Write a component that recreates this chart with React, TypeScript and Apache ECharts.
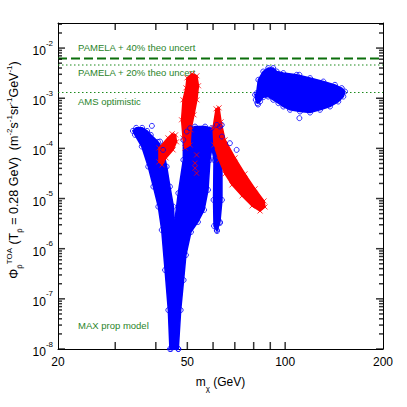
import React, { useEffect, useRef } from 'react';
import * as echarts from 'echarts';

// ---- axes ----
const MASS_MIN = 20;
const MASS_MAX = 200;
const FLUX_MIN = 1e-8;
const FLUX_MAX = Math.pow(10, -1.5);
const MASS_TICKS = [30, 40, 50, 60, 70, 80, 90, 100];
const MASS_LABELS = [20, 50, 100, 200];
const FLUX_DECADES = [-8, -7, -6, -5, -4, -3, -2];
const FLUX_MINOR_MANTISSA = [2, 3, 4, 5, 6, 7, 8, 9];

// ---- reference limits ----
const PAMELA_40 = 6.2e-3;
const PAMELA_20 = 4.6e-3;
const AMS_OPT = 1.3e-3;

// ---- blue circles (model points, outlines of dense regions) [mass GeV, flux] ----
const BLUE_LEFT_ARM: number[][] = [
  [34.0, 2.23e-4], [34.8, 2.57e-4], [36.3, 2.57e-4], [37.6, 2.23e-4], [38.6, 1.86e-4],
  [40.6, 1.35e-4], [42.1, 9.33e-5], [43.2, 4.33e-5], [44.2, 1.73e-5], [45.3, 6.89e-6],
  [45.7, 2.71e-6], [46.1, 5.95e-7], [46.5, 9.46e-8], [46.9, 1e-8], [44.2, 1e-8],
  [43.7, 5.97e-8], [42.7, 3.76e-7], [41.7, 2.36e-6], [40.7, 6.89e-6], [39.3, 1.73e-5],
  [37.9, 4.33e-5], [36.2, 1.09e-4], [34.5, 1.86e-4],
];
const BLUE_RIGHT_BODY: number[][] = [
  [44.5, 1e-8], [44.9, 9.46e-8], [45.3, 5.95e-7], [45.6, 2.06e-6], [45.8, 3.74e-6],
  [46.9, 1.28e-5], [48.6, 5.89e-5], [48.6, 1.48e-4], [49.8, 2.16e-4], [51.0, 2.53e-4],
  [52.8, 2.72e-4], [56.7, 2.72e-4], [59.4, 2.53e-4], [61.6, 2.94e-4], [63.0, 2.72e-4],
  [63.9, 1.72e-4], [63.9, 9.38e-6], [63.0, 3.41e-6], [61.7, 2.25e-6], [60.4, 2.84e-6],
  [60.2, 9.38e-6], [60.4, 5.89e-5], [59.5, 1.02e-4], [58.7, 5.89e-5], [57.9, 1.49e-5],
  [56.3, 5.92e-6], [53.9, 3.41e-6], [51.3, 2.15e-6], [49.5, 7.48e-7], [48.7, 2.37e-7],
  [47.7, 5.97e-8], [46.9, 1e-8],
];
const BLUE_HIGH_MASS: number[][] = [
  [81.7, 1.26e-3], [82.7, 2.33e-3], [85.6, 3.41e-3], [88.7, 3.99e-3], [91.9, 3.99e-3],
  [94.2, 3.41e-3], [98.7, 3.17e-3], [108.5, 2.93e-3], [119.3, 2.52e-3], [131.1, 2.15e-3],
  [142.3, 1.85e-3], [149.3, 1.59e-3], [152.8, 1.36e-3], [151.0, 1.08e-3], [145.7, 8.59e-4],
  [137.4, 6.83e-4], [128.0, 5.87e-4], [119.3, 5.18e-4], [111.1, 5.43e-4], [103.5, 5.87e-4],
  [98.7, 6.83e-4], [95.3, 7.98e-4], [91.9, 9.29e-4], [88.7, 1.08e-3], [85.6, 1.05e-3],
  [83.7, 8.59e-4], [82.1, 7.98e-4], [81.2, 9.29e-4], [80.8, 1.17e-3],
];
const BLUE_ISOLATED: number[][] = [
  [38.9, 2.81e-4], [41.2, 1.37e-4], [55.4, 2.45e-4], [63.8, 2.94e-4], [67.6, 1.27e-4],
  [70.9, 9.33e-5], [61.6, 2.36e-6], [63.0, 3.26e-6], [110.6, 2.93e-3], [110.6, 4.01e-4],
  [82.5, 7.5e-4],
];

// ---- red crosses (excluded points) [mass GeV, flux] ----
const RED_LOW: number[][] = [
  [40.9, 1.02e-4], [43.6, 1.62e-4], [44.9, 1.95e-4], [46.0, 1.86e-4], [46.3, 1.35e-4],
  [45.2, 9.33e-5], [43.0, 6.46e-5], [41.8, 4.69e-5], [40.9, 5.38e-5],
];
const RED_PEAK: number[][] = [
  [49.9, 2.55e-3], [51.7, 3.07e-3], [53.5, 2.80e-3], [54.1, 1.77e-3], [53.5, 9.29e-4],
  [52.4, 4.67e-4], [51.3, 2.34e-4], [51.0, 1.17e-4], [49.2, 1.02e-4], [48.5, 1.62e-4],
  [48.0, 3.71e-4], [48.5, 9.29e-4], [49.5, 1.61e-3],
];
const RED_TAIL: number[][] = [
  [61.3, 6.14e-4], [62.6, 6.43e-4], [63.5, 3.38e-4], [65.3, 1.48e-4], [70.1, 6.46e-5],
  [75.2, 3.10e-5], [80.8, 1.56e-5], [86.1, 8.95e-6], [86.7, 6.79e-6], [83.7, 5.65e-6],
  [79.1, 7.12e-6], [73.7, 1.13e-5], [68.6, 1.87e-5], [65.3, 3.10e-5], [62.6, 5.89e-5],
  [60.4, 1.17e-4], [60.0, 2.57e-4],
];
const RED_ISOLATED: number[][] = [
  [53.4, 7.41e-5], [52.8, 5.07e-5], [52.8, 4.03e-5], [53.4, 3.20e-5],
];

const FONT = 'Liberation Sans, Arial, Helvetica, sans-serif';
const BLUE = '#0000ff';
const RED = '#ff0000';
const GREEN_TXT = '#2a842a';
const CROSS = 'path://M0,0L10,10M10,0L0,10';

const lg = (v: number) => Math.log10(v);

function polygonSeries(pts: number[][], color: string) {
  return {
    type: 'custom',
    xAxisIndex: 0,
    yAxisIndex: 0,
    silent: true,
    z: 3,
    data: pts,
    renderItem: (params: any, api: any) => {
      if (params.dataIndex !== 0) return { type: 'group', children: [] };
      return {
        type: 'polygon',
        shape: { points: pts.map((p) => api.coord(p)) },
        style: { fill: color, stroke: color, lineWidth: 1.5 },
      };
    },
  };
}

function edgeMarks(pts: number[][], color: string, cross: boolean, z: number) {
  return {
    type: 'scatter',
    xAxisIndex: 0,
    yAxisIndex: 0,
    silent: true,
    z,
    data: pts,
    symbol: cross ? CROSS : 'circle',
    symbolSize: 5,
    itemStyle: { color: 'rgba(0,0,0,0)', borderColor: color, borderWidth: 1 },
  };
}

function limitLine(v: number, color: string, width: number, dash: number[]) {
  return {
    type: 'line',
    xAxisIndex: 0,
    yAxisIndex: 0,
    data: [[MASS_MIN, v], [MASS_MAX, v]],
    symbol: 'none',
    silent: true,
    z: 1,
    lineStyle: { color, width, type: dash },
  };
}

// tick marks: small solid rectangles sitting on the frame, pointing inward
function tickSeries(data: number[][], size: number[], offset: number[]) {
  return {
    type: 'scatter',
    xAxisIndex: 0,
    yAxisIndex: 0,
    clip: false,
    silent: true,
    z: 10,
    data,
    symbol: 'rect',
    symbolSize: size,
    symbolOffset: offset,
    itemStyle: { color: '#000', borderWidth: 0 },
  };
}

export default function App() {
  const ref = useRef<HTMLDivElement>(null);
  useEffect(() => {
    if (!ref.current) return;
    const chart = echarts.init(ref.current, null, { renderer: 'svg' });
    const majorFlux = FLUX_DECADES.map((d) => Math.pow(10, d));
    const minorFlux: number[] = [];
    FLUX_DECADES.forEach((d) =>
      FLUX_MINOR_MANTISSA.forEach((k) => {
        const v = k * Math.pow(10, d);
        if (v <= FLUX_MAX) minorFlux.push(v);
      })
    );
    const xMin = lg(MASS_MIN);
    const xMax = lg(MASS_MAX);
    const yMin = lg(FLUX_MIN);
    const yMax = lg(FLUX_MAX);
    const axisLine = { show: true, onZero: false, lineStyle: { color: '#000', width: 1 } };

    const option: any = {
      animation: false,
      backgroundColor: '#ffffff',
      grid: { left: 58, right: 24, top: 23, bottom: 58 },
      xAxis: [
        {
          type: 'log', min: MASS_MIN, max: MASS_MAX, position: 'bottom',
          axisLine, axisTick: { show: false }, axisLabel: { show: false }, splitLine: { show: false }, minorTick: { show: false },
        },
        {
          type: 'value', min: xMin, max: xMax, position: 'bottom',
          axisLine: { show: false }, axisTick: { show: false }, splitLine: { show: false },
          axisLabel: {
            show: true, margin: 7, color: '#000', fontSize: 12, fontFamily: FONT,
            customValues: MASS_LABELS.map(lg),
            formatter: (v: number) => String(Math.round(Math.pow(10, v))),
          },
        },
        {
          type: 'value', min: xMin, max: xMax, position: 'top',
          axisLine, axisTick: { show: false }, axisLabel: { show: false }, splitLine: { show: false },
        },
      ],
      yAxis: [
        {
          type: 'log', min: FLUX_MIN, max: FLUX_MAX, position: 'left',
          axisLine, axisTick: { show: false }, axisLabel: { show: false }, splitLine: { show: false }, minorTick: { show: false },
        },
        {
          type: 'value', min: yMin, max: yMax, position: 'left',
          axisLine: { show: false }, axisTick: { show: false }, splitLine: { show: false },
          axisLabel: {
            show: true, margin: 5, color: '#000', fontFamily: FONT,
            customValues: FLUX_DECADES,
            formatter: (v: number) => `{b|10}{s|${Math.round(v)}}`,
            rich: {
              b: { fontSize: 12, lineHeight: 18, verticalAlign: 'bottom', fontFamily: FONT, color: '#000' },
              s: { fontSize: 8, lineHeight: 10, verticalAlign: 'top', fontFamily: FONT, color: '#000' },
            },
          },
        },
        {
          type: 'value', min: yMin, max: yMax, position: 'right',
          axisLine, axisTick: { show: false }, axisLabel: { show: false }, splitLine: { show: false },
        },
      ],
      series: [
        limitLine(PAMELA_40, '#0b6e0b', 2, [9, 4]),
        limitLine(PAMELA_20, '#1d8a1d', 1.2, [1.5, 2.5]),
        limitLine(AMS_OPT, '#1d8a1d', 1.2, [1.5, 2.5]),
        polygonSeries(BLUE_LEFT_ARM, BLUE),
        polygonSeries(BLUE_RIGHT_BODY, BLUE),
        polygonSeries(BLUE_HIGH_MASS, BLUE),
        edgeMarks(BLUE_LEFT_ARM, BLUE, false, 4),
        edgeMarks(BLUE_RIGHT_BODY, BLUE, false, 4),
        edgeMarks(BLUE_HIGH_MASS, BLUE, false, 4),
        edgeMarks(BLUE_ISOLATED, BLUE, false, 4),
        polygonSeries(RED_LOW, RED),
        polygonSeries(RED_PEAK, RED),
        polygonSeries(RED_TAIL, RED),
        edgeMarks(RED_LOW, RED, true, 5),
        edgeMarks(RED_PEAK, RED, true, 5),
        edgeMarks(RED_TAIL, RED, true, 5),
        edgeMarks(RED_ISOLATED, RED, true, 5),
        tickSeries(MASS_TICKS.map((m) => [m, FLUX_MIN]), [1.5, 7], [0, -3.5]),
        tickSeries(MASS_TICKS.map((m) => [m, FLUX_MAX]), [1.5, 7], [0, 3.5]),
        tickSeries(majorFlux.map((f) => [MASS_MIN, f]), [7, 1.5], [3.5, 0]),
        tickSeries(majorFlux.map((f) => [MASS_MAX, f]), [7, 1.5], [-3.5, 0]),
        tickSeries(minorFlux.map((f) => [MASS_MIN, f]), [4, 1.5], [2, 0]),
        tickSeries(minorFlux.map((f) => [MASS_MAX, f]), [4, 1.5], [-2, 0]),
      ],
      graphic: [
        {
          type: 'text', x: 78, y: 47.5, silent: true,
          style: { text: 'PAMELA + 40% theo uncert', fill: GREEN_TXT, fontSize: 9.5, fontFamily: FONT, align: 'left', verticalAlign: 'middle' },
        },
        {
          type: 'text', x: 78, y: 72.5, silent: true,
          style: { text: 'PAMELA + 20% theo uncert', fill: GREEN_TXT, fontSize: 9.5, fontFamily: FONT, align: 'left', verticalAlign: 'middle' },
        },
        {
          type: 'text', x: 78, y: 101, silent: true,
          style: { text: 'AMS optimistic', fill: GREEN_TXT, fontSize: 9.5, fontFamily: FONT, align: 'left', verticalAlign: 'middle' },
        },
        {
          type: 'text', x: 78, y: 325, silent: true,
          style: { text: 'MAX prop model', fill: GREEN_TXT, fontSize: 9.5, fontFamily: FONT, align: 'left', verticalAlign: 'middle' },
        },
        {
          type: 'text', x: 220.5, y: 384, silent: true,
          style: {
            text: '{n|m}{sub|χ}{n| (GeV)}',
            align: 'center', verticalAlign: 'middle',
            rich: {
              n: { fontSize: 12, lineHeight: 16, verticalAlign: 'top', fontFamily: FONT, fill: '#000' },
              sub: { fontSize: 8, lineHeight: 10, verticalAlign: 'bottom', fontFamily: FONT, fill: '#000' },
            },
          },
        },
        {
          type: 'text', x: 14, y: 170, rotation: Math.PI / 2, silent: true,
          style: {
            text: '{n|Φ}{sub|p̄}{sup|TOA}{n| (T}{sub|p̄}{n| = 0.28 GeV)  (m}{sup|-2}{n|s}{sup|-1}{n|sr}{sup|-1}{n|GeV}{sup|-1}{n|)}',
            align: 'center', verticalAlign: 'middle',
            rich: {
              n: { fontSize: 12.5, lineHeight: 18, verticalAlign: 'middle', fontFamily: FONT, fill: '#000' },
              sup: { fontSize: 8, lineHeight: 8, verticalAlign: 'top', fontFamily: FONT, fill: '#000' },
              sub: { fontSize: 8, lineHeight: 8, verticalAlign: 'bottom', fontFamily: FONT, fill: '#000' },
            },
          },
        },
      ],
    };
    chart.setOption(option);
    return () => chart.dispose();
  }, []);
  return (
    <div
      ref={ref}
      style={{ position: 'fixed', left: 0, top: 0, width: 407, height: 407, background: '#fff' }}
    />
  );
}
